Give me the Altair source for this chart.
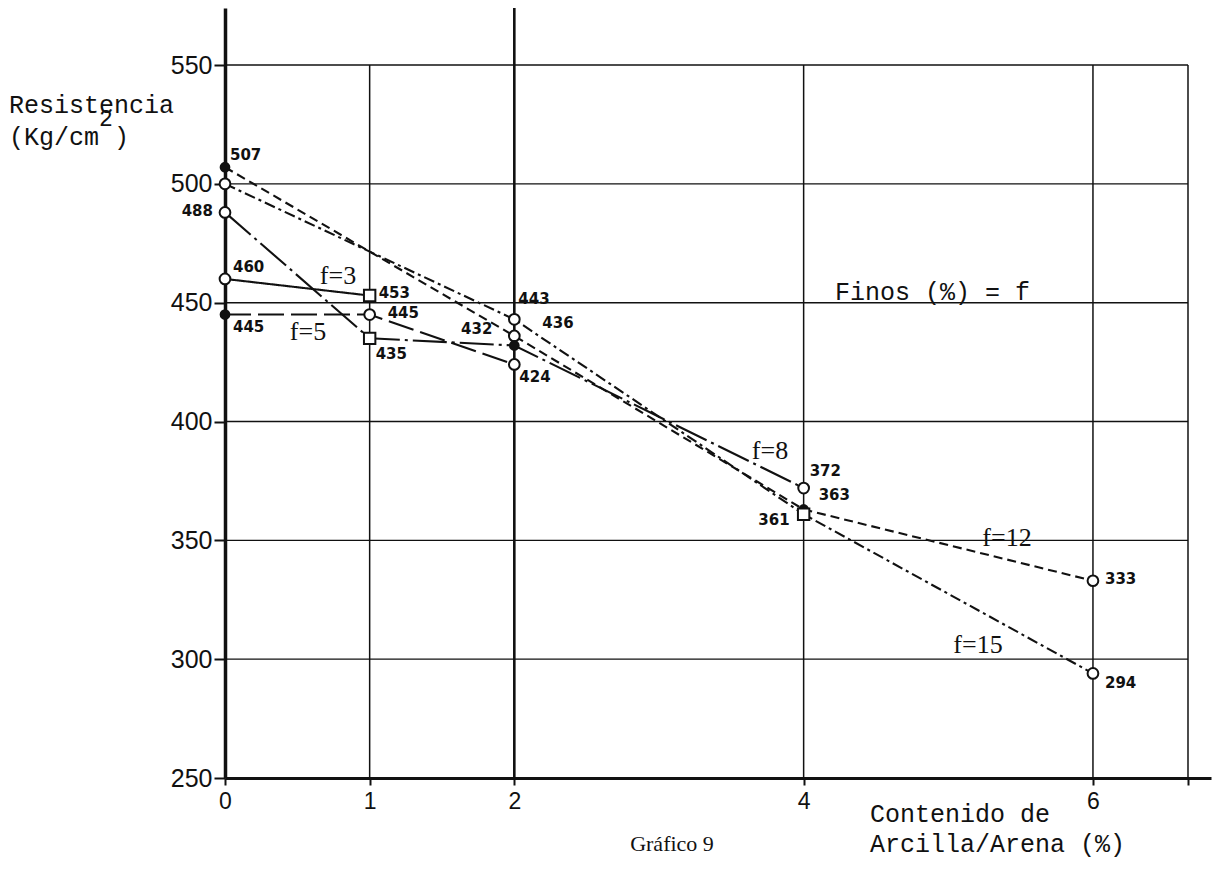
import altair as alt
import pandas as pd

# ---------------- data ----------------
SERIES = ["f=3", "f=5", "f=8", "f=12", "f=15"]

X_F3 = [0, 1]
Y_F3 = [460, 453]
X_F5 = [0, 1, 2]
Y_F5 = [445, 445, 424]
X_F8 = [0, 1, 2, 4]
Y_F8 = [488, 435, 432, 372]
X_F12 = [0, 2, 4, 6]
Y_F12 = [507, 436, 363, 333]
X_F15 = [0, 2, 4, 6]
Y_F15 = [500, 443, 361, 294]

# marker kind of each point
M_F3 = ["open", "square"]
M_F5 = ["filled", "open", "open"]
M_F8 = ["open", "square", "filled", "open"]
M_F12 = ["filled", "open", "filled", "open"]
M_F15 = ["open", "open", "square", "open"]

Y_TICKS = [250, 300, 350, 400, 450, 500, 550]
X_TICKS = [0, 1, 2, 4, 6]

# ---------------- layout / style ----------------
W, H = 986, 770
XMAX = 6.816
YMIN, YMAX = 250, 574
FRAME_X = 6.657
INK = "#111111"
DASHES = [[1, 0], [26, 7], [34, 5, 3, 5], [9, 5], [11, 4, 3, 4]]

# label placement (dx, dy, align) per (series, x)
LABEL_POS = {
    ("f=12", 0): (5, -12, "left"),
    ("f=8", 0): (-12, -1, "right"),
    ("f=3", 0): (8, -12, "left"),
    ("f=5", 0): (8, 12, "left"),
    ("f=3", 1): (9, -3, "left"),
    ("f=5", 1): (18, -2, "left"),
    ("f=8", 1): (6, 16, "left"),
    ("f=15", 2): (4, -20, "left"),
    ("f=12", 2): (28, -13, "left"),
    ("f=8", 2): (-22, -16, "right"),
    ("f=5", 2): (5, 13, "left"),
    ("f=8", 4): (6, -17, "left"),
    ("f=12", 4): (15, -14, "left"),
    ("f=15", 4): (-14, 6, "right"),
    ("f=12", 6): (12, -2, "left"),
    ("f=15", 6): (12, 10, "left"),
}

rows = []
for name, xs_, ys_, ms_ in [
    ("f=3", X_F3, Y_F3, M_F3),
    ("f=5", X_F5, Y_F5, M_F5),
    ("f=8", X_F8, Y_F8, M_F8),
    ("f=12", X_F12, Y_F12, M_F12),
    ("f=15", X_F15, Y_F15, M_F15),
]:
    for xv, yv, mv in zip(xs_, ys_, ms_):
        rows.append({"series": name, "x": xv, "y": yv, "marker": mv, "label": str(yv)})
df = pd.DataFrame(rows)

xscale = alt.Scale(domain=[0, XMAX], nice=False, zero=False)
yscale = alt.Scale(domain=[YMIN, YMAX], nice=False, zero=False)

x_axis = alt.Axis(values=X_TICKS + [FRAME_X], title=None, grid=False, format="d",
                  labelExpr="datum.value > 6.5 ? '' : datum.label",
                  tickSize=7, labelPadding=5, domainWidth=3, tickWidth=2,
                  labelFont="Liberation Sans", labelFontSize=23, labelColor=INK,
                  domainColor=INK, tickColor=INK, labelFlush=False)
y_axis = alt.Axis(values=Y_TICKS, title=None, grid=False, format="d",
                  tickSize=11, labelPadding=2, domainWidth=3.5, tickWidth=2,
                  labelFont="Liberation Sans", labelFontSize=25, labelColor=INK,
                  domainColor=INK, tickColor=INK, labelFlush=False)


def X(field):
    return alt.X(field, type="quantitative", scale=xscale, axis=x_axis)


def Y(field):
    return alt.Y(field, type="quantitative", scale=yscale, axis=y_axis)


# ---------------- grid / frame ----------------
hgrid = alt.Chart(pd.DataFrame({"y": Y_TICKS[1:]})).mark_rule(
    color=INK, strokeWidth=1.4
).encode(y=Y("y"), x=alt.datum(0, scale=xscale), x2=alt.datum(FRAME_X))

vgrid = alt.Chart(pd.DataFrame({"x": [1, 4, 6, FRAME_X]})).mark_rule(
    color=INK, strokeWidth=1.5
).encode(x=X("x"), y=alt.datum(YMIN, scale=yscale), y2=alt.datum(550))

vgrid2 = alt.Chart(pd.DataFrame({"x": [2]})).mark_rule(
    color=INK, strokeWidth=2.6
).encode(x=X("x"), y=alt.datum(YMIN, scale=yscale), y2=alt.datum(YMAX))

# ---------------- series ----------------
lines = alt.Chart(df).mark_line(strokeWidth=2.1, color=INK).encode(
    x=X("x"), y=Y("y"),
    detail="series:N",
    order="x:Q",
    strokeDash=alt.StrokeDash("series:N", scale=alt.Scale(domain=SERIES, range=DASHES), legend=None),
)

open_pts = alt.Chart(df).transform_filter(alt.datum.marker == "open").mark_point(
    shape="circle", filled=True, fill="white", stroke=INK, strokeWidth=2, size=115, opacity=1
).encode(x=X("x"), y=Y("y"))

filled_pts = alt.Chart(df).transform_filter(alt.datum.marker == "filled").mark_point(
    shape="circle", filled=True, color=INK, size=115, opacity=1
).encode(x=X("x"), y=Y("y"))

square_pts = alt.Chart(df).transform_filter(alt.datum.marker == "square").mark_point(
    shape="square", filled=True, fill="white", stroke=INK, strokeWidth=2, size=130, opacity=1
).encode(x=X("x"), y=Y("y"))

label_layers = []
for (s, xv), (dx, dy, al) in LABEL_POS.items():
    label_layers.append(
        alt.Chart(df).transform_filter(
            (alt.datum.series == s) & (alt.datum.x == xv)
        ).mark_text(
            dx=dx, dy=dy, align=al, baseline="middle",
            font="DejaVu Sans", fontWeight="bold", fontSize=15, color=INK
        ).encode(x=X("x"), y=Y("y"), text="label:N")
    )


# ---------------- annotations ----------------
def note(text, px, py, font, size, align="left", weight="normal"):
    return alt.Chart(pd.DataFrame({"t": [text]})).mark_text(
        align=align, baseline="middle", font=font, fontSize=size,
        fontWeight=weight, color=INK
    ).encode(text="t:N", x=alt.value(px), y=alt.value(py))


MONO = "Liberation Mono"
SERIF = "Liberation Serif"
notes = [
    note("Resistencia", -216, 97, MONO, 25),
    note("(Kg/cm", -216, 129, MONO, 25),
    note("2", -126, 111, MONO, 23),
    note(")", -111, 129, MONO, 25),
    note("Finos (%) = f", 610, 284, MONO, 25),
    note("f=3", 113, 268, SERIF, 26, "center"),
    note("f=5", 83, 324, SERIF, 26, "center"),
    note("f=8", 545, 443, SERIF, 26, "center"),
    note("f=12", 782, 530, SERIF, 26, "center"),
    note("f=15", 753, 637, SERIF, 26, "center"),
    note("Contenido de", 645, 806, MONO, 25),
    note("Arcilla/Arena (%)", 645, 836, MONO, 25),
    note("Gráfico 9", 447, 836, SERIF, 22, "center"),
]

chart = alt.layer(
    hgrid, vgrid, vgrid2, lines, open_pts, filled_pts, square_pts,
    *label_layers, *notes
).properties(
    width=W, height=H,
    autosize=alt.AutoSizeParams(type="none"),
    padding={"left": 217, "top": 0, "right": 4, "bottom": 83},
    background="white",
).configure_view(stroke=None)

chart.save("out.html", embed_options={"renderer": "svg", "actions": False})
